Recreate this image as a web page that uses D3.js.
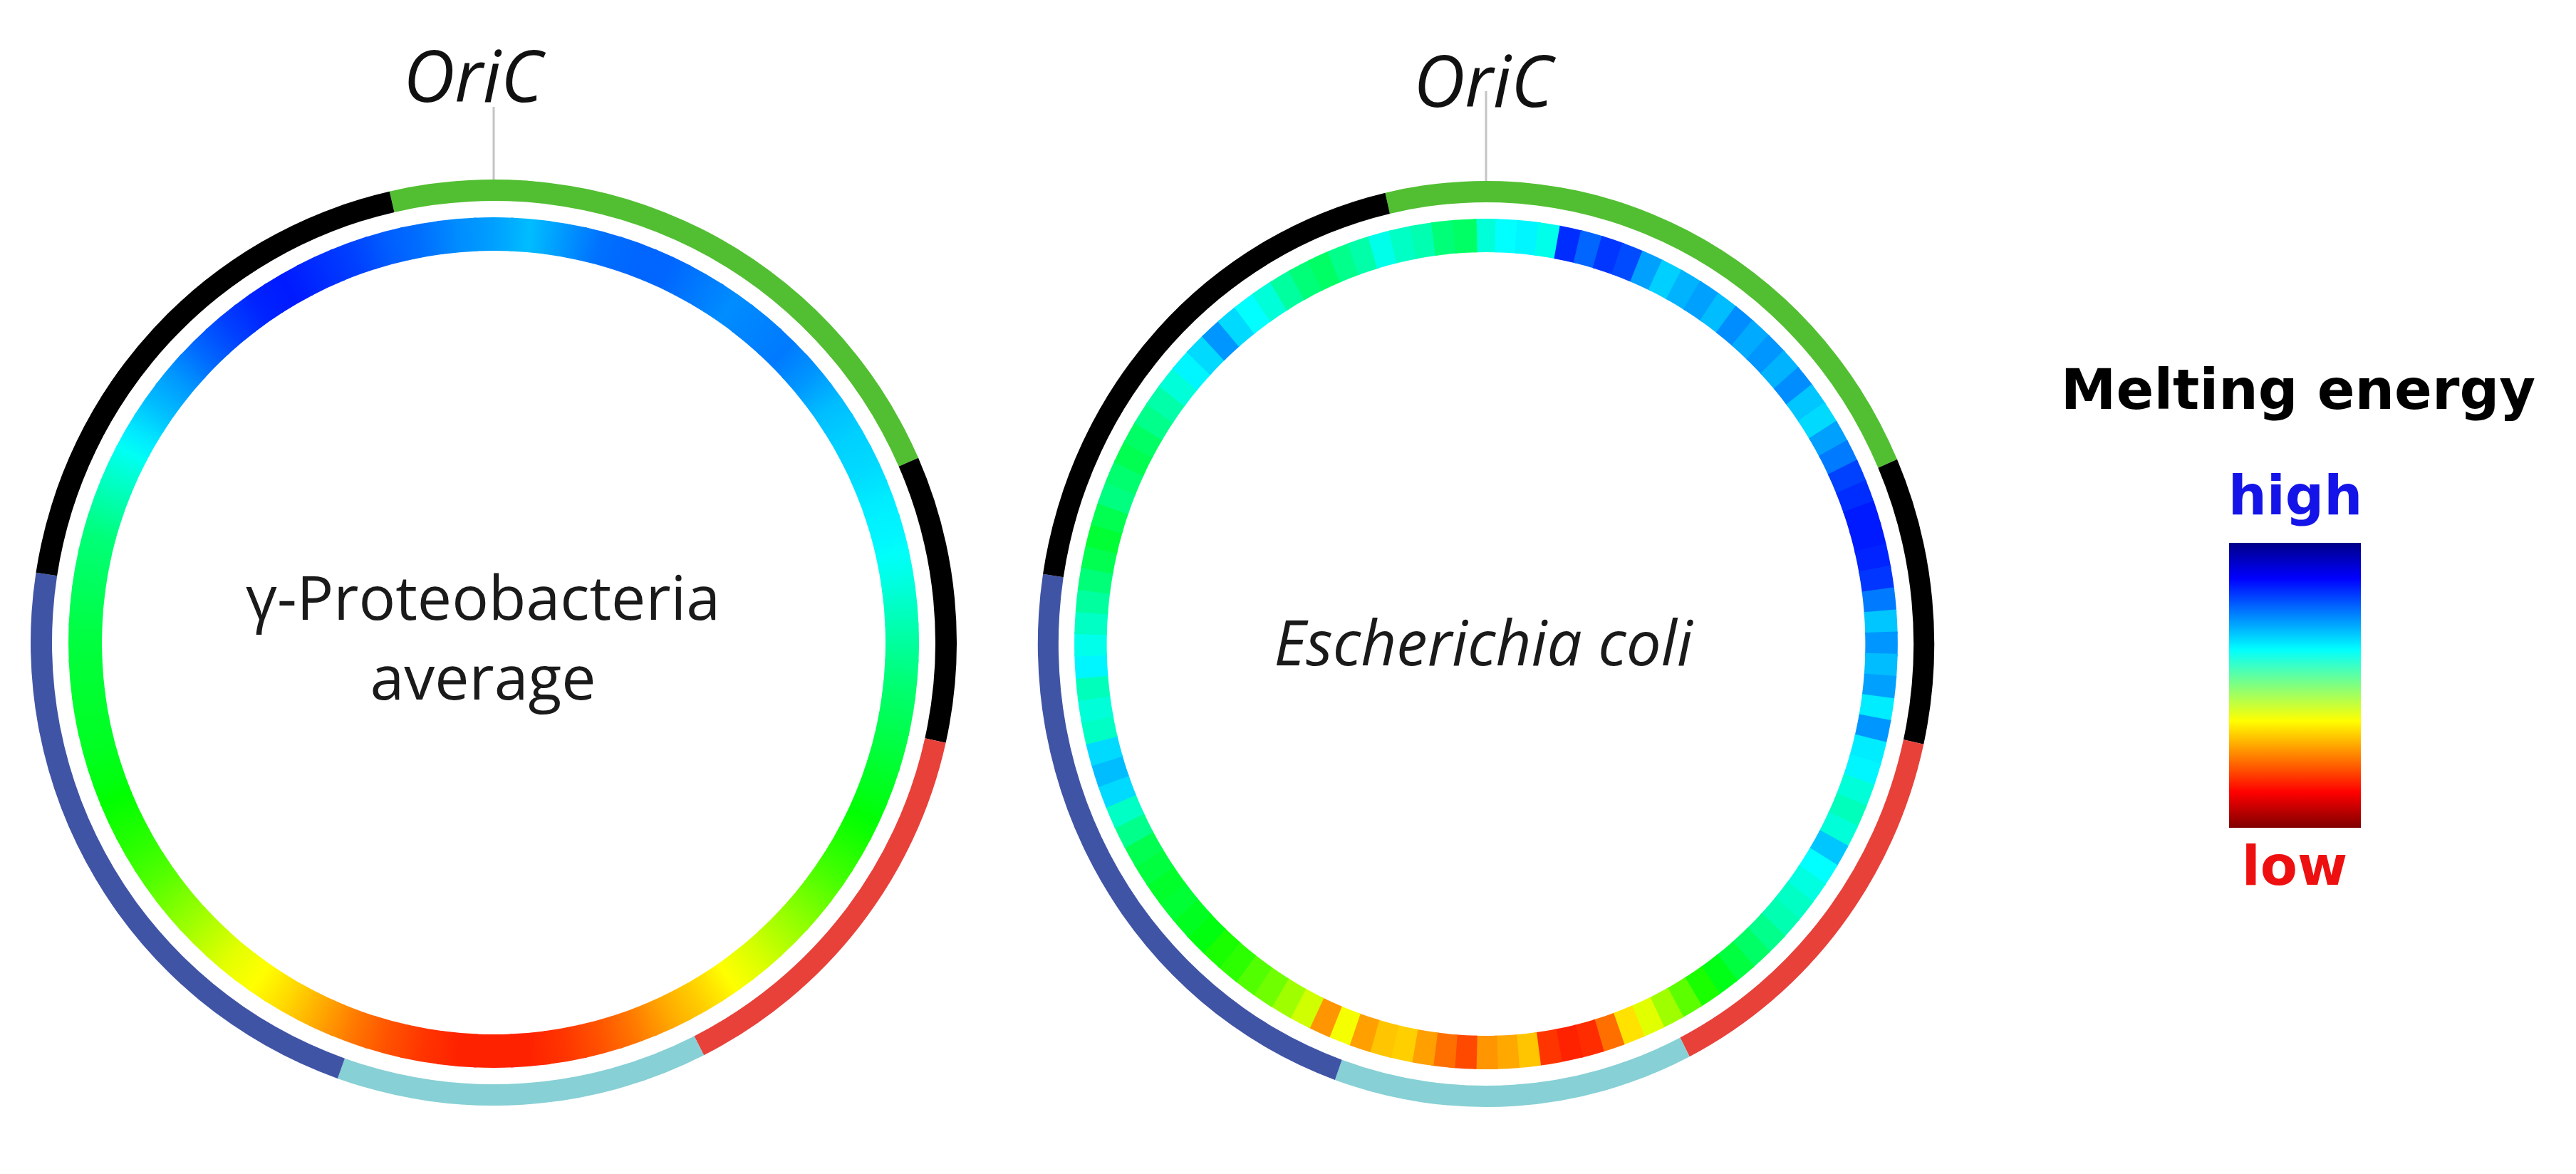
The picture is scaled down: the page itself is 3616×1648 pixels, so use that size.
<!DOCTYPE html>
<html>
<head>
<meta charset="utf-8">
<script src="https://cdn.jsdelivr.net/npm/d3@7"></script>
<style>
  body { margin: 0; background: #fff; }
  svg { display: block; }
</style>
</head>
<body>
<div id="chart"></div>
<script>
// macrodomains, degrees clockwise from OriC
const domainNames = ['Ori', 'NSR', 'Right', 'Ter', 'Left', 'NSL'];
const domainStart = [-13, 66.5, 102.5, 153, 199.7, 278.7];
const domainEnd = [66.5, 102.5, 153, 199.7, 278.7, 347];

// melting energy (0 = low, 1 = high), clockwise from OriC, one value per 5 degrees
const gammaAvg = [
  0.86, 0.83, 0.87, 0.91, 0.92, 0.92, 0.90, 0.88, 0.89, 0.90, 0.87, 0.83,
  0.81, 0.80, 0.78, 0.77, 0.74, 0.70, 0.66, 0.62, 0.59, 0.56, 0.53, 0.50,
  0.46, 0.42, 0.37, 0.32, 0.27, 0.23, 0.18, 0.14, 0.09, 0.05, 0.02, 0.00,
  0.00, 0.00, 0.02, 0.05, 0.09, 0.14, 0.19, 0.23, 0.26, 0.31, 0.36, 0.41,
  0.45, 0.48, 0.51, 0.53, 0.54, 0.55, 0.56, 0.58, 0.60, 0.62, 0.67, 0.72,
  0.78, 0.83, 0.87, 0.92, 0.96, 0.99, 1.00, 0.98, 0.96, 0.93, 0.91, 0.88
];

// E. coli, one value per 3 degrees
const ecoli = [
  0.72, 0.76, 0.77, 0.74, 0.98, 0.92, 0.97, 0.95, 0.86, 0.81, 0.84, 0.86,
  0.83, 0.88, 0.85, 0.87, 0.84, 0.88, 0.82, 0.80, 0.86, 0.90, 0.96, 0.98,
  1.00, 1.00, 0.99, 0.97, 0.90, 0.82, 0.87, 0.83, 0.86, 0.78, 0.87, 0.78,
  0.77, 0.72, 0.69, 0.72, 0.82, 0.76, 0.73, 0.70, 0.68, 0.64, 0.60, 0.56,
  0.52, 0.47, 0.40, 0.33, 0.26, 0.20, 0.08, 0.01, 0.00, 0.02, 0.17, 0.14,
  0.12, 0.04, 0.08, 0.13, 0.18, 0.17, 0.13, 0.24, 0.12, 0.28, 0.33, 0.38,
  0.41, 0.45, 0.47, 0.51, 0.53, 0.55, 0.54, 0.56, 0.58, 0.64, 0.70, 0.80,
  0.83, 0.80, 0.70, 0.72, 0.69, 0.77, 0.74, 0.70, 0.66, 0.62, 0.58, 0.55,
  0.58, 0.63, 0.61, 0.58, 0.60, 0.64, 0.67, 0.72, 0.77, 0.80, 0.87, 0.80,
  0.76, 0.72, 0.66, 0.62, 0.60, 0.64, 0.67, 0.74, 0.70, 0.68, 0.62, 0.60
];

const panelLabels = [['γ-Proteobacteria', 'average'], ['Escherichia coli']];
const originLabel = 'OriC';
const legendTitle = 'Melting energy';
const legendHigh = 'high';
const legendLow = 'low';

const width = 3616;
const height = 1648;

const domainColor = {
  Ori: '#52bf32', NSR: '#000000', Right: '#e8413a',
  Ter: '#87d0d5', Left: '#4054a6', NSL: '#000000'
};

const panels = [
  { values: gammaAvg, cx: 693, cy: 902, sx: 1, smooth: true, italic: false, size: 86,
    oriX: 664, oriY: 143, lineTop: 150, labelX: 678, labelY: 870 },
  { values: ecoli, cx: 2086, cy: 904, sx: 0.968, smooth: false, italic: true, size: 87,
    oriX: 2082, oriY: 150, lineTop: 128, labelX: 2082, labelY: 934 }
];

const svg = d3.select('#chart')
  .append('svg')
  .attr('width', width)
  .attr('height', height);

svg.append('rect')
   .attr('width', width)
   .attr('height', height)
   .attr('fill', '#fff');

const defs = svg.append('defs');

const angle = d3.scaleLinear().domain([0, 360]).range([0, 2 * Math.PI]);

// ring colour: low = red, high = blue
const hue = d3.scaleLinear().domain([0, 1]).range([8, 234]);
const ringColor = (v) => d3.hsl(hue(v), 1, 0.5).formatHex();

const outerArc = d3.arc().innerRadius(620).outerRadius(650);
const innerArc = d3.arc().innerRadius(550).outerRadius(597);

panels.forEach((p, k) => {
  const g = svg.append('g')
    .attr('transform', 'translate(' + p.cx + ',' + p.cy + ') scale(' + p.sx + ',1)');

  const n = p.values.length;
  const bin = d3.scaleLinear().domain([0, n]).range([0, 360]);

  if (p.smooth) {
    // each cell gets a gradient running to its neighbours
    p.values.forEach((v, i) => {
      const prev = p.values[(i - 1 + n) % n];
      const next = p.values[(i + 1) % n];
      const a0 = angle(bin(i - 0.5));
      const a1 = angle(bin(i + 0.5));
      const gr = defs.append('linearGradient')
        .attr('id', 'cell' + k + '_' + i)
        .attr('gradientUnits', 'userSpaceOnUse')
        .attr('x1', 575 * Math.sin(a0)).attr('y1', -575 * Math.cos(a0))
        .attr('x2', 575 * Math.sin(a1)).attr('y2', -575 * Math.cos(a1));
      gr.append('stop').attr('offset', 0).attr('stop-color', ringColor((prev + v) / 2));
      gr.append('stop').attr('offset', 0.5).attr('stop-color', ringColor(v));
      gr.append('stop').attr('offset', 1).attr('stop-color', ringColor((v + next) / 2));
    });
  }

  g.selectAll('path.cell')
   .data(p.values)
   .enter()
   .append('path')
   .attr('class', 'cell')
   .attr('d', (v, i) => innerArc({ startAngle: angle(bin(i - 0.5)) - 0.003, endAngle: angle(bin(i + 0.5)) + 0.003 }))
   .attr('fill', (v, i) => p.smooth ? 'url(#cell' + k + '_' + i + ')' : ringColor(v));

  g.selectAll('path.domain')
   .data(domainNames)
   .enter()
   .append('path')
   .attr('class', 'domain')
   .attr('d', (d, i) => outerArc({ startAngle: angle(domainStart[i]), endAngle: angle(domainEnd[i]) }))
   .attr('fill', (d) => domainColor[d]);

  // origin marker
  svg.append('line')
     .attr('x1', p.cx).attr('x2', p.cx)
     .attr('y1', p.lineTop).attr('y2', p.cy - 650)
     .attr('stroke', '#c4c4c4')
     .attr('stroke-width', 3);

  svg.append('text')
     .attr('x', p.oriX)
     .attr('y', p.oriY)
     .attr('text-anchor', 'middle')
     .style('font-family', '"Open Sans", sans-serif')
     .style('font-style', 'italic')
     .style('font-size', '100px')
     .style('fill', '#111')
     .text(originLabel);

  const label = svg.append('text')
     .attr('text-anchor', 'middle')
     .style('font-family', '"Open Sans", sans-serif')
     .style('font-style', p.italic ? 'italic' : 'normal')
     .style('font-size', p.size + 'px')
     .style('fill', '#1a1a1a');

  panelLabels[k].forEach((line, j) => {
    label.append('tspan')
         .attr('x', p.labelX)
         .attr('y', p.labelY + j * 112)
         .text(line);
  });
});

// legend, jet colour map
const jet = d3.scaleLinear()
  .domain([0, 0.125, 0.375, 0.5, 0.625, 0.875, 1])
  .range(['#800000', '#ff0000', '#ffff00', '#80ff80', '#00ffff', '#0000ff', '#000088']);

const legendY = d3.scaleLinear().domain([0, 1]).range([1162, 762]);

const lg = defs.append('linearGradient')
  .attr('id', 'jet')
  .attr('x1', 0).attr('y1', 1)
  .attr('x2', 0).attr('y2', 0);

jet.domain().forEach((t) => {
  lg.append('stop').attr('offset', t).attr('stop-color', jet(t));
});

svg.append('rect')
   .attr('x', 3129)
   .attr('y', legendY(1))
   .attr('width', 185)
   .attr('height', legendY(0) - legendY(1))
   .attr('fill', 'url(#jet)');

const legendFont = (sel, size, color) => sel
  .attr('text-anchor', 'middle')
  .style('font-family', '"DejaVu Sans", sans-serif')
  .style('font-weight', 'bold')
  .style('font-size', size + 'px')
  .style('fill', color);

svg.append('text')
   .attr('x', 3226).attr('y', 574)
   .call(legendFont, 78, '#000')
   .text(legendTitle);

svg.append('text')
   .attr('x', 3222).attr('y', legendY(1) - 40)
   .call(legendFont, 76, '#1414e8')
   .text(legendHigh);

svg.append('text')
   .attr('x', 3221).attr('y', legendY(0) + 80)
   .call(legendFont, 76, '#ee1010')
   .text(legendLow);
</script>
</body>
</html>
